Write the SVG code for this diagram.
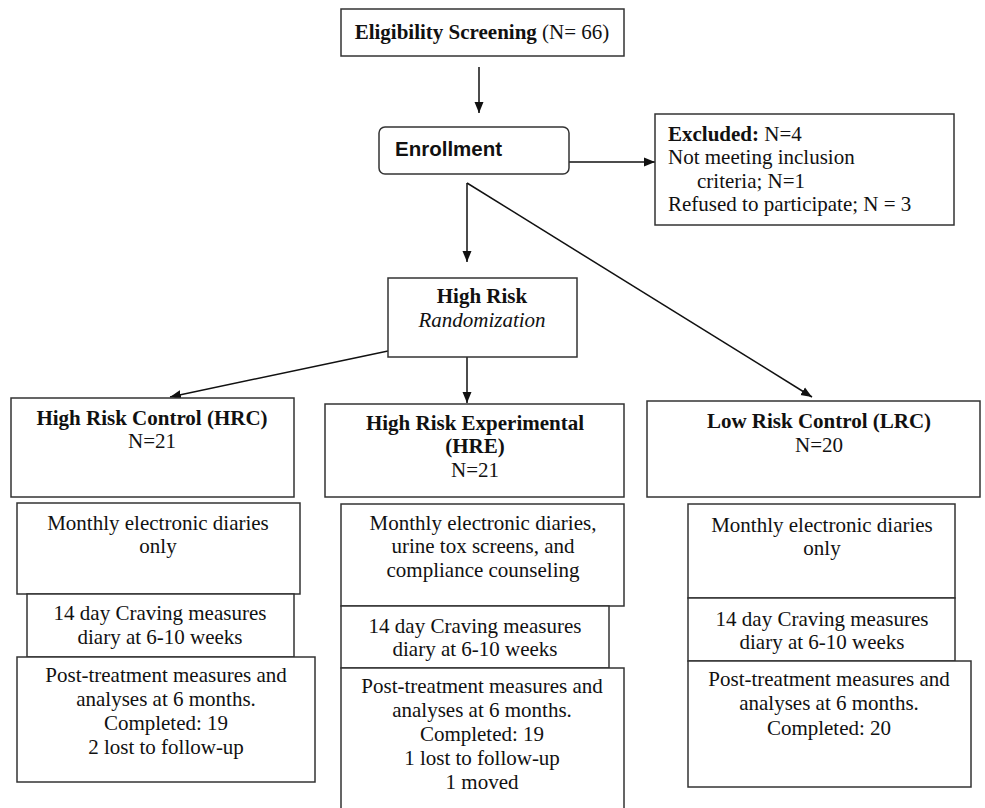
<svg xmlns="http://www.w3.org/2000/svg" width="985" height="808" viewBox="0 0 985 808">
<style>
.box{fill:#fff;stroke:#333;stroke-width:1.5}
.t{font-family:"Liberation Serif","Times New Roman",serif;font-size:21px;fill:#111}
.c{text-anchor:middle}
.b{font-weight:bold}
.ln{fill:none;stroke:#111;stroke-width:1.5}
</style>
<defs>
<marker id="ah" markerWidth="12" markerHeight="10" refX="11" refY="5" orient="auto" markerUnits="userSpaceOnUse">
<path d="M0,0.5 L11,5 L0,9.5 Z" fill="#111"/>
</marker>
</defs>
<rect width="985" height="808" fill="#fff"/>

<g id="connectors">
<line class="ln" x1="479" y1="67" x2="479" y2="113" marker-end="url(#ah)"/>
<line class="ln" x1="569" y1="162" x2="655" y2="162" marker-end="url(#ah)"/>
<line class="ln" x1="467" y1="183" x2="467" y2="262" marker-end="url(#ah)"/>
<line class="ln" x1="467" y1="183" x2="812" y2="397" marker-end="url(#ah)"/>
<line class="ln" x1="467" y1="357" x2="467" y2="403" marker-end="url(#ah)"/>
<line class="ln" x1="388" y1="351" x2="170" y2="397" marker-end="url(#ah)"/>
</g>

<g id="eligibility">
<rect class="box" x="341" y="9" width="283" height="47"/>
<text class="t c" x="482" y="39"><tspan class="b">Eligibility Screening</tspan> (N= 66)</text>
</g>

<g id="enrollment">
<rect class="box" x="379" y="127" width="190" height="47" rx="6"/>
<text x="395" y="156" style="font-family:'Liberation Sans',Arial,sans-serif;font-size:20.5px;font-weight:bold;fill:#111">Enrollment</text>
</g>

<g id="excluded">
<rect class="box" x="655" y="114" width="299" height="111"/>
<text class="t" x="668" y="141"><tspan class="b">Excluded:</tspan>  N=4</text>
<text class="t" x="668" y="164">Not meeting inclusion</text>
<text class="t" x="697" y="188">criteria; N=1</text>
<text class="t" x="668" y="211">Refused to participate; N = 3</text>
</g>

<g id="highrisk">
<rect class="box" x="388" y="278" width="189" height="79"/>
<text class="t c b" x="482" y="303">High Risk</text>
<text class="t c" x="482" y="327" font-style="italic">Randomization</text>
</g>

<g id="hrc">
<rect class="box" x="11" y="398" width="283" height="99"/>
<text class="t c b" x="152" y="425">High Risk Control (HRC)</text>
<text class="t c" x="152" y="448">N=21</text>
</g>
<g id="hrc-diaries">
<rect class="box" x="17" y="503" width="283" height="91"/>
<text class="t c" x="158" y="530">Monthly electronic diaries</text>
<text class="t c" x="158" y="553">only</text>
</g>
<g id="hrc-craving">
<rect class="box" x="27" y="594" width="267" height="63"/>
<text class="t c" x="160" y="620">14 day Craving measures</text>
<text class="t c" x="160" y="644">diary at 6-10 weeks</text>
</g>
<g id="hrc-post">
<rect class="box" x="17" y="657" width="298" height="125"/>
<text class="t c" x="166" y="682">Post-treatment measures and</text>
<text class="t c" x="166" y="706">analyses at 6 months.</text>
<text class="t c" x="166" y="730">Completed: 19</text>
<text class="t c" x="166" y="754">2 lost to follow-up</text>
</g>

<g id="hre">
<rect class="box" x="325" y="404" width="299" height="93"/>
<text class="t c b" x="475" y="430">High Risk Experimental</text>
<text class="t c b" x="475" y="453">(HRE)</text>
<text class="t c" x="475" y="477">N=21</text>
</g>
<g id="hre-diaries">
<rect class="box" x="341" y="504" width="283" height="102"/>
<text class="t c" x="483" y="530">Monthly electronic diaries,</text>
<text class="t c" x="483" y="553">urine tox screens, and</text>
<text class="t c" x="483" y="577">compliance counseling</text>
</g>
<g id="hre-craving">
<rect class="box" x="341" y="606" width="268" height="62"/>
<text class="t c" x="475" y="633">14 day Craving measures</text>
<text class="t c" x="475" y="656">diary at 6-10 weeks</text>
</g>
<g id="hre-post">
<rect class="box" x="341" y="668" width="283" height="150"/>
<text class="t c" x="482" y="693">Post-treatment measures and</text>
<text class="t c" x="482" y="717">analyses at 6 months.</text>
<text class="t c" x="482" y="741">Completed: 19</text>
<text class="t c" x="482" y="765">1 lost to follow-up</text>
<text class="t c" x="482" y="789">1 moved</text>
</g>

<g id="lrc">
<rect class="box" x="647" y="401" width="333" height="96"/>
<text class="t c b" x="819" y="428">Low Risk Control (LRC)</text>
<text class="t c" x="819" y="452">N=20</text>
</g>
<g id="lrc-diaries">
<rect class="box" x="688" y="504" width="267" height="94"/>
<text class="t c" x="822" y="532">Monthly electronic diaries</text>
<text class="t c" x="822" y="555">only</text>
</g>
<g id="lrc-craving">
<rect class="box" x="688" y="598" width="267" height="63"/>
<text class="t c" x="822" y="626">14 day Craving measures</text>
<text class="t c" x="822" y="649">diary at 6-10 weeks</text>
</g>
<g id="lrc-post">
<rect class="box" x="688" y="661" width="283" height="126"/>
<text class="t c" x="829" y="686">Post-treatment measures and</text>
<text class="t c" x="829" y="710">analyses at 6 months.</text>
<text class="t c" x="829" y="735">Completed: 20</text>
</g>
</svg>
